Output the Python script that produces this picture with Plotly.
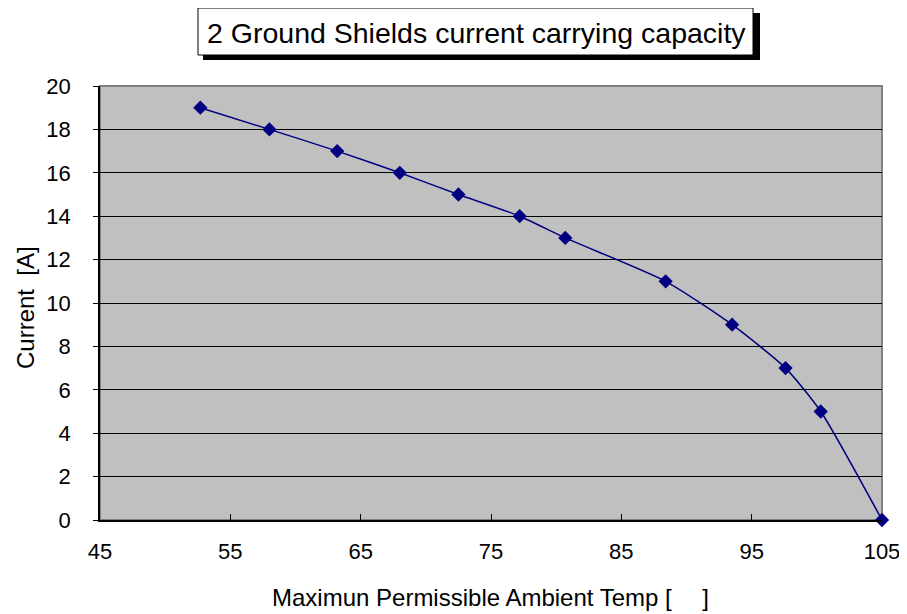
import plotly.graph_objects as go

temp = [52.7, 58.0, 63.2, 68.0, 72.5, 77.2, 80.7, 88.4, 93.5, 97.6, 100.3, 105.0]
current = [19, 18, 17, 16, 15, 14, 13, 11, 9, 7, 5, 0]
x_ticks = [45, 55, 65, 75, 85, 95, 105]
y_ticks = [0, 2, 4, 6, 8, 10, 12, 14, 16, 18, 20]

title_text = "2 Ground Shields current carrying capacity"
x_title = "Maximun Permissible Ambient Temp [\u2003 ]"
y_title = "Current  [A]"

font = "Liberation Sans, Arial, sans-serif"

# plot area in page pixels (page has an 8px body margin)
PL, PR, PT, PB = 100, 882, 86, 520
W, H = 907, 614
def px(x):
    return (x - PL) / (PR - PL)
def py(y):
    return (PB - y) / (PB - PT)

fig = go.Figure()
fig.add_trace(go.Scatter(
    x=temp, y=current, mode="lines+markers",
    line=dict(color="#000080", width=1.5, shape="spline", smoothing=0.6),
    marker=dict(symbol="diamond", size=11, color="#000080"),
    showlegend=False, cliponaxis=False,
))

fig.update_layout(
    width=W, height=H,
    margin=dict(l=PL - 8, r=W + 8 - PR, t=PT - 8, b=H + 8 - PB, pad=0),
    paper_bgcolor="white", plot_bgcolor="#C0C0C0",
    font=dict(family=font, color="black", size=22),
    xaxis=dict(range=[45, 105], tickvals=x_ticks, ticks="inside", ticklen=6,
               tickcolor="black", showgrid=False, zeroline=False,
               showline=True, linecolor="black", linewidth=1.5,
               ticklabelstandoff=11, automargin=False),
    yaxis=dict(range=[0, 20], tickvals=y_ticks, ticks="outside", ticklen=5,
               tickcolor="black", showgrid=True, gridcolor="black", gridwidth=1,
               zeroline=False, showline=True, linecolor="black", linewidth=1.5,
               ticklabelstandoff=18, automargin=False),
)

# plot area border (top/right gray)
fig.add_shape(type="rect", xref="paper", yref="paper", x0=0, x1=1, y0=0, y1=1,
              line=dict(color="#808080", width=2), layer="below")

# title box shadow and box
fig.add_shape(type="rect", xref="paper", yref="paper",
              x0=px(203), x1=px(760), y0=py(60), y1=py(13),
              fillcolor="black", line=dict(width=0))
fig.add_shape(type="rect", xref="paper", yref="paper",
              x0=px(198), x1=px(753), y0=py(55), y1=py(8),
              fillcolor="white", line=dict(color="black", width=1))
fig.add_annotation(
    text=title_text, xref="paper", yref="paper",
    x=px(476), y=py(33), showarrow=False, xanchor="center", yanchor="middle",
    font=dict(size=28.5, family=font, color="black"),
)

# axis titles
fig.add_annotation(
    text=x_title, xref="paper", yref="paper",
    x=px(490), y=py(597), showarrow=False, xanchor="center", yanchor="middle",
    font=dict(size=24, family=font, color="black"),
)
fig.add_annotation(
    text=y_title, xref="paper", yref="paper", textangle=-90,
    x=px(25), y=py(308), showarrow=False, xanchor="center", yanchor="middle",
    font=dict(size=24, family=font, color="black"),
)

fig.write_html("out.html")
